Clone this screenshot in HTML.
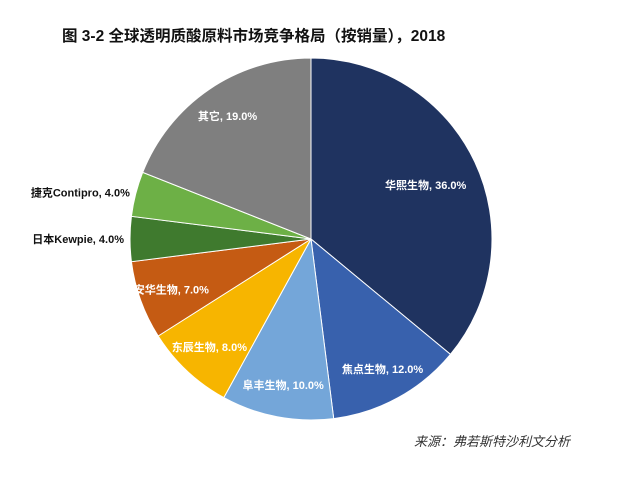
<!DOCTYPE html>
<html><head><meta charset="utf-8"><style>
body{margin:0;background:#fff;width:640px;height:484px;overflow:hidden;font-family:"Liberation Sans","Noto Sans CJK SC",sans-serif}
</style></head><body>
<svg width="640" height="484" xmlns="http://www.w3.org/2000/svg">
<text x="62" y="41" font-size="15.5" font-weight="bold" fill="#111" font-family="Liberation Sans,Noto Sans CJK SC,sans-serif">图 3-2  全球透明质酸原料市场竞争格局（按销量），2018</text>
<g id="slices"></g>
<g id="labels" font-family="Liberation Sans,Noto Sans CJK SC,sans-serif" font-size="11" font-weight="bold"></g>
<text x="414" y="446" font-size="13" font-style="italic" fill="#333" font-family="Liberation Sans,Noto Sans CJK SC,sans-serif">来源：弗若斯特沙利文分析</text>
</svg>
<script>
const categories=["华熙生物","焦点生物","阜丰生物","东辰生物","安华生物","日本Kewpie","捷克Contipro","其它"];
const values=[36,12,10,8,7,4,4,19];
const colors=["#1f3360","#3861ad","#74a6d9","#f7b500","#c55b13","#3f7a2e","#6db046","#7f7f7f"];
const cx=311,cy=239,r=181;
const NS="http://www.w3.org/2000/svg";
const total=values.reduce((a,b)=>a+b,0);
const gs=document.getElementById('slices'),gl=document.getElementById('labels');
function pt(a,rr){return [cx+rr*Math.sin(a),cy-rr*Math.cos(a)];}
let acc=0;
values.forEach((v,i)=>{
  const a0=acc/total*2*Math.PI;acc+=v;const a1=acc/total*2*Math.PI;
  const p0=pt(a0,r),p1=pt(a1,r);
  const p=document.createElementNS(NS,'path');
  p.setAttribute('d',`M${cx},${cy}L${p0[0]},${p0[1]}A${r},${r} 0 ${a1-a0>Math.PI?1:0} 1 ${p1[0]},${p1[1]}Z`);
  p.setAttribute('fill',colors[i]);p.setAttribute('stroke','#fff');p.setAttribute('stroke-width','1');
  
  
  gs.appendChild(p);
  const am=(a0+a1)/2;
  const t=document.createElementNS(NS,'text');
  t.textContent=categories[i]+", "+v.toFixed(1)+"%";
  let lp;
  if(v<=4){lp=pt(am,r+6);t.setAttribute('text-anchor','end');t.setAttribute('fill','#111');}
  else{lp=pt(am,r*(v>=30?0.7:0.82));t.setAttribute('text-anchor','middle');t.setAttribute('fill','#fff');}
  t.setAttribute('x',lp[0]);t.setAttribute('y',lp[1]+4);
  
  
  gl.appendChild(t);
});
</script>
</body></html>
